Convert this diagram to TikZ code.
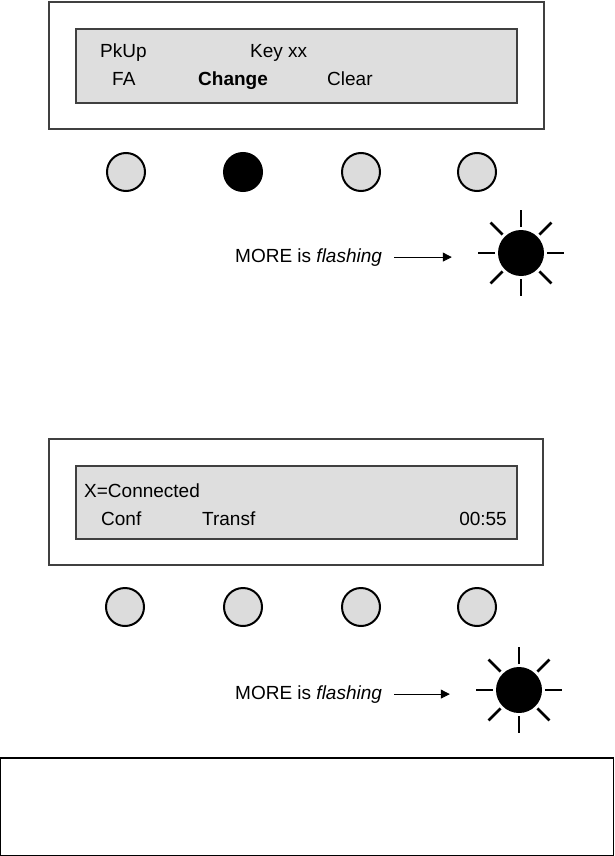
\documentclass[tikz,border=0pt]{standalone}
\usepackage{fontspec}
\setmainfont{Liberation Sans}
\usepackage{tikz}
\usetikzlibrary{arrows.meta,positioning}
\definecolor{lcdgray}{RGB}{222,222,222}
\definecolor{keygray}{RGB}{220,220,220}
\definecolor{framegray}{RGB}{64,64,64}

\begin{document}
\begin{tikzpicture}[
    x=1pt,y=-1pt,
    panel/.style={draw=framegray,line width=1.5pt},
    lcd/.style={draw=framegray,line width=1.5pt,fill=lcdgray},
    lcdtext/.style={anchor=base west,inner sep=0pt,font=\fontsize{19}{22}\selectfont},
    key/.style={circle,draw,line width=2pt,fill=keygray,minimum size=38pt,inner sep=0pt},
    keyon/.style={key,fill=black},
    sundisk/.style={circle,fill=black,minimum size=46pt,inner sep=0pt},
    sunray/.style={line width=2.8pt},
    >={Triangle[length=9pt,width=9pt]}
]
\useasboundingbox (0,0) rectangle (614,856);

% first display
\draw[panel] (49,2) rectangle (544,129);
\draw[lcd] (76,29) rectangle (517,103);
\node[lcdtext] (pkup) at (100,58) {PkUp};
\node[lcdtext] (keyxx) at (250,58) {Key xx};
\node[lcdtext] (fa) at (112,86) {FA};
\node[lcdtext,font=\fontsize{19}{22}\selectfont\bfseries] (change) at (198,86) {Change};
\node[lcdtext] (clear) at (327,86) {Clear};

\node[key] (ka1) at (126,172) {};
\node[keyon] (ka2) at (243,172) {};
\node[key] (ka3) at (361,172) {};
\node[key] (ka4) at (477,172) {};

\node[sundisk] (sun1) at (521,253) {};
\foreach \a in {0,45,...,315}
    \draw[sunray] ([shift={(\a:26)}]sun1.center) -- ([shift={(\a:43)}]sun1.center);
\node[lcdtext] (more1) at (235,262) {MORE is \textit{flashing}};
\draw[->,thick,shorten <=12pt,shorten >=46pt] (more1.east) -- (more1.east -| sun1.west);

% second display
\draw[panel] (49,439) rectangle (543,565);
\draw[lcd] (76,466) rectangle (517,539);
\node[lcdtext] (conn) at (84,497) {X=Connected};
\node[lcdtext] (conf) at (101,525) {Conf};
\node[lcdtext] (transf) at (202,525) {Transf};
\node[lcdtext,anchor=base east] (timer) at (507,525) {00:55};

\node[key] (kb1) at (125,607) {};
\node[key] (kb2) at (243,607) {};
\node[key] (kb3) at (361,607) {};
\node[key] (kb4) at (477,607) {};

\node[sundisk] (sun2) at (519,690) {};
\foreach \a in {0,45,...,315}
    \draw[sunray] ([shift={(\a:26)}]sun2.center) -- ([shift={(\a:43)}]sun2.center);
\node[lcdtext] (more2) at (235,699) {MORE is \textit{flashing}};
\draw[->,thick,shorten <=12pt,shorten >=46pt] (more2.east) -- (more2.east -| sun2.west);

% empty note box
\draw[line width=1.2pt] (0.8,758) rectangle (613.2,855.2);
\end{tikzpicture}
\end{document}
